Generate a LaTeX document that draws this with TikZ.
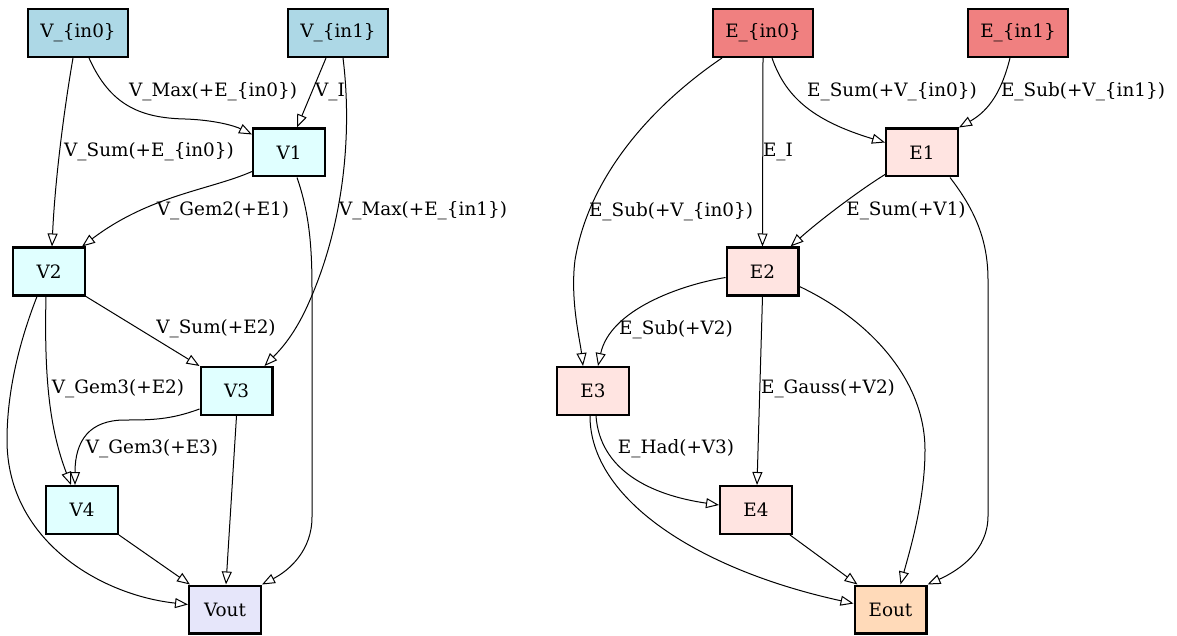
\documentclass[tikz,border=0pt]{standalone}
\usepackage{fontspec}
\setmainfont{DejaVu Serif}
\usepackage{tikz}
\definecolor{vinblue}{RGB}{173,216,230}
\definecolor{vcyan}{RGB}{224,255,255}
\definecolor{voutlav}{RGB}{230,230,250}
\definecolor{einred}{RGB}{240,128,128}
\definecolor{erose}{RGB}{255,228,225}
\definecolor{eoutpeach}{RGB}{255,218,185}
\usetikzlibrary{arrows.meta}

\begin{document}
\begin{tikzpicture}[x=1pt, y=-1pt,
				knoten/.style={draw, line width=2.4pt, rectangle, minimum width=71.6pt, minimum height=47.6pt, inner sep=0pt, fill=#1},
				eingang/.style={knoten=#1, minimum width=99.6pt},
				kante/.style={-{Triangle[open, length=13pt, width=10pt]}, line width=1pt},
				lbl/.style={inner sep=0pt},
				>=latex,   %Pfeilspitzen
				font=\fontsize{18.4}{22}\selectfont]
				\useasboundingbox (0,0) rectangle (1177,636);
				% Knoten V-Seite
				\node[eingang=vinblue] (vin0) at (78,33) {V\_\{in0\}};
				\node[eingang=vinblue] (vin1) at (338,33) {V\_\{in1\}};
				\node[knoten=vcyan] (v1) at (289,152.5) {V1};
				\node[knoten=vcyan] (v2) at (49,271.5) {V2};
				\node[knoten=vcyan] (v3) at (236.5,391) {V3};
				\node[knoten=vcyan] (v4) at (82,510) {V4};
				\node[knoten=voutlav] (vout) at (225,609.5) {Vout};
				% Knoten E-Seite
				\node[eingang=einred] (ein0) at (763,33) {E\_\{in0\}};
				\node[eingang=einred] (ein1) at (1018,33) {E\_\{in1\}};
				\node[knoten=erose] (e1) at (922,152.5) {E1};
				\node[knoten=erose] (e2) at (762.5,271.5) {E2};
				\node[knoten=erose] (e3) at (593,391) {E3};
				\node[knoten=erose] (e4) at (756,510) {E4};
				\node[knoten=eoutpeach] (eout) at (890.5,609.5) {Eout};
				% Kanten V-Seite
				\draw[kante] ([xshift=11pt]vin0.south) .. controls (110,105) and (140,118) .. (185,119) .. controls (215,120) and (235,126) .. ([yshift=18pt]v1.west) node[lbl] at (213,92) {V\_Max(+E\_\{in0\})};
				\draw[kante] ([xshift=-5pt]vin0.south) .. controls (64,110) and (55,180) .. ([xshift=3pt]v2.north) node[lbl] at (149,152) {V\_Sum(+E\_\{in0\})};
				\draw[kante] ([xshift=-12pt]vin1.south) -- ([xshift=8pt]v1.north) node[lbl] at (330,92) {V\_I};
				\draw[kante] ([xshift=5pt]vin1.south) .. controls (352,130) and (345,220) .. (310,300) .. controls (295,335) and (280,350) .. ([xshift=28pt]v3.north) node[lbl] at (423,211) {V\_Max(+E\_\{in1\})};
				\draw[kante] ([yshift=-19pt]v1.west) .. controls (210,190) and (150,195) .. ([xshift=33pt]v2.north) node[lbl] at (223,211) {V\_Gem2(+E1)};
				\draw[kante] ([xshift=8pt]v1.south) .. controls (310,215) and (312,250) .. (312,290) -- (312,517) .. controls (312,550) and (290,570) .. (vout.north east);
				\draw[kante] (v2.south east) -- (v3.north west) node[lbl] at (216,329) {V\_Sum(+E2)};
				\draw[kante] ([xshift=-3pt]v2.south) .. controls (44,380) and (50,430) .. ([xshift=-11pt]v4.north) node[lbl] at (118,389) {V\_Gem3(+E2)};
				\draw[kante] ([xshift=-12pt]v2.south) .. controls (20,340) and (7,390) .. (7,440) .. controls (7,540) and (100,595) .. ([yshift=5pt]vout.west);
				\draw[kante] ([yshift=-18pt]v3.west) .. controls (170,420) and (150,420) .. (125,420) .. controls (90,420) and (75,440) .. ([xshift=-7pt]v4.north) node[lbl] at (152,449) {V\_Gem3(+E3)};
				\draw[kante] (v3.south) -- ([xshift=1pt]vout.north);
				\draw[kante] (v4.south east) -- ([xshift=-35pt]vout.north);
				% Kanten E-Seite
				\draw[kante] ([xshift=9pt]ein0.south) .. controls (785,95) and (810,120) .. ([yshift=10pt]e1.west) node[lbl] at (892,92) {E\_Sum(+V\_\{in0\})};
				\draw[kante] ([xshift=-8pt]ein1.south) .. controls (1002,90) and (990,110) .. (e1.north east) node[lbl] at (1083,92) {E\_Sub(+V\_\{in1\})};
				\draw[kante] (ein0.south) -- (e2.north) node[lbl] at (778,152) {E\_I};
				\draw[kante] ([xshift=-41pt]ein0.south) .. controls (660,100) and (590,170) .. (575,260) .. controls (570,300) and (580,340) .. ([xshift=-10pt]e3.north) node[lbl] at (671,212) {E\_Sub(+V\_\{in0\})};
				\draw[kante] ([yshift=-22pt]e1.west) .. controls (860,190) and (820,220) .. ([xshift=28pt]e2.north) node[lbl] at (906,211) {E\_Sum(+V1)};
				\draw[kante] ([xshift=28pt]e1.south) .. controls (975,210) and (988,240) .. (988,280) -- (988,516) .. controls (988,550) and (960,570) .. (eout.north east);
				\draw[kante] ([yshift=-6pt]e2.west) .. controls (680,285) and (610,310) .. ([xshift=5pt]e3.north) node[lbl] at (676,330) {E\_Sub(+V2)};
				\draw[kante] (e2.south) -- ([xshift=1pt]e4.north) node[lbl] at (828,389) {E\_Gauss(+V2)};
				\draw[kante] ([yshift=-15pt]e2.east) .. controls (870,320) and (925,380) .. (925,450) .. controls (925,500) and (910,550) .. ([xshift=10pt]eout.north);
				\draw[kante] ([xshift=3pt]e3.south) .. controls (600,470) and (650,495) .. ([yshift=5pt]e4.west) node[lbl] at (676,449) {E\_Had(+V3)};
				\draw[kante] ([xshift=-3pt]e3.south) .. controls (590,500) and (700,570) .. ([yshift=6pt]eout.west);
				\draw[kante] ([xshift=34pt]e4.south) -- ([xshift=-33pt]eout.north);
			\end{tikzpicture}
\end{document}
